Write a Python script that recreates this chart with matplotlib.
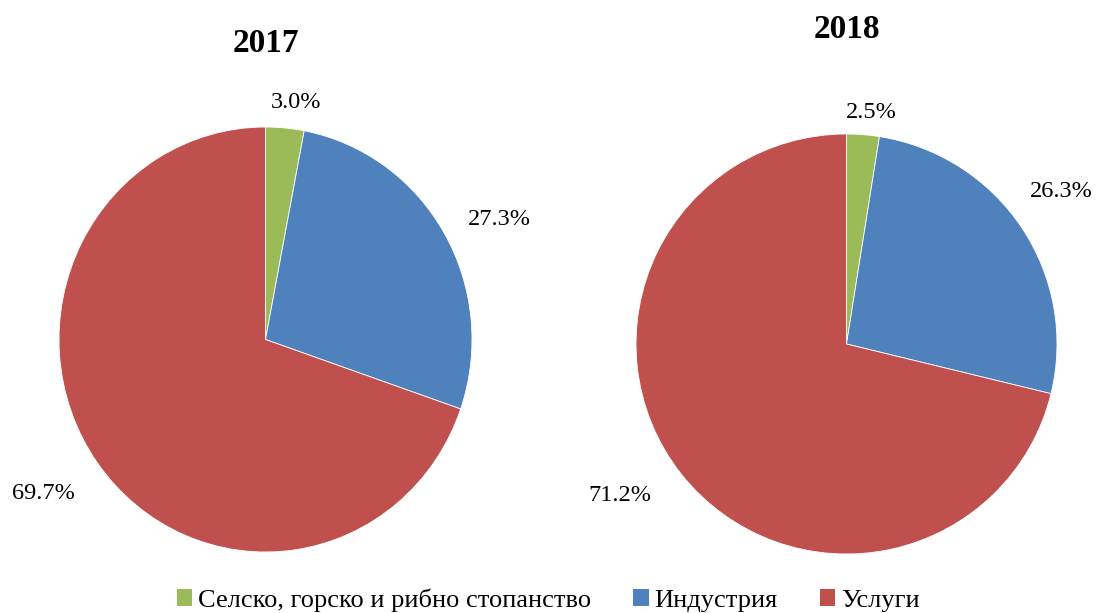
import matplotlib
matplotlib.use("Agg")
import matplotlib.pyplot as plt
import numpy as np

categories = ["Селско, горско и рибно стопанство", "Индустрия", "Услуги"]
years = ["2017", "2018"]
values_2017 = [3.0, 27.3, 69.7]
values_2018 = [2.5, 26.3, 71.2]
labels_2017 = ["3.0%", "27.3%", "69.7%"]
labels_2018 = ["2.5%", "26.3%", "71.2%"]

colors = ["#9BBB59", "#4F81BD", "#C0504D"]
plt.rcParams['font.family'] = ['Liberation Serif', 'DejaVu Serif']

fig = plt.figure(figsize=(11.02, 6.13), dpi=100)

W, H = 1102, 613
def axes_for(cx, cy, rx, ry):
    return fig.add_axes([(cx - rx) / W, (H - (cy + ry)) / H, 2 * rx / W, 2 * ry / H])

specs = [
    (axes_for(265.5, 339.5, 206.5, 212.5), values_2017, labels_2017, years[0],
     [1.135, 1.27, 1.29], [-2, -3, -2], 44, 127, 212.5),
    (axes_for(846.5, 344, 210.5, 210), values_2018, labels_2018, years[1],
     [1.12, 1.26, 1.29], [-1.5, 2.3, -4.7], 30, 134, 210),
]

for ax, vals, labs, yr, dists, angoff, ty, top, ry in specs:
    wedges, _ = ax.pie(vals, colors=colors, startangle=90, counterclock=False,
                       wedgeprops=dict(edgecolor='white', linewidth=0.6))
    ax.set_xlim(-1, 1)
    ax.set_ylim(-1, 1)
    ax.set_aspect('auto')
    ax.axis('off')
    for w, lab, d, da in zip(wedges, labs, dists, angoff):
        ang = np.deg2rad((w.theta1 + w.theta2) / 2 + da)
        ax.text(d * np.cos(ang), d * np.sin(ang), lab, ha='center', va='center_baseline',
                fontsize=17.5, clip_on=False)
    ax.text(0, 1 + (top - ty) / ry, yr, ha='center', va='center',
            fontsize=24, fontweight='bold', clip_on=False)

handles = [plt.Rectangle((0, 0), 1, 1, facecolor=c) for c in colors]
fig.legend(handles, categories, loc='center', bbox_to_anchor=(548 / W, 1 - 600 / H),
           ncol=3, frameon=False, fontsize=19, handlelength=0.6, handleheight=0.6,
           handletextpad=0.2, columnspacing=1.6, borderaxespad=0, borderpad=0)

fig.savefig("out.png", dpi=100)
